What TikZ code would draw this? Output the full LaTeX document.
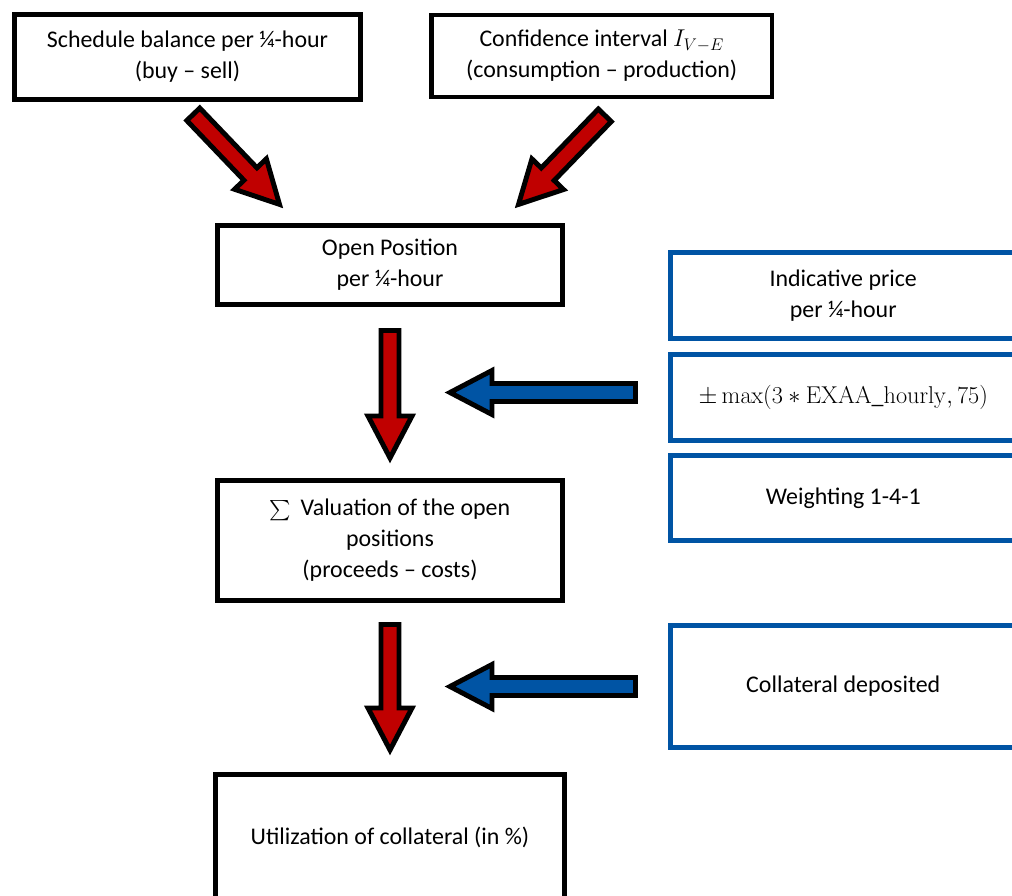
\documentclass[tikz,border=0pt]{standalone}
\usepackage{amsmath}
\usepackage[no-math]{fontspec}
\setmainfont{Carlito}
\usetikzlibrary{calc,positioning}
\definecolor{arrred}{RGB}{192,0,0}
\definecolor{boxblue}{RGB}{0,84,164}
\tikzset{
  blackbox/.style={draw=black,line width=3.5pt,fill=white,align=center,
    font=\fontsize{17}{22}\selectfont},
  bluebox/.style={blackbox,draw=boxblue,line width=3.2pt},
  blockarrow/.style={draw=black,line width=3.5pt,line join=miter,
    to path={
      ($(\tikztostart)!0.225cm!90:(\tikztotarget)$)
      -- ($($(\tikztotarget)!1.05cm!(\tikztostart)$)!0.225cm!90:(\tikztotarget)$)
      -- ($($(\tikztotarget)!1.05cm!(\tikztostart)$)!0.55cm!90:(\tikztotarget)$)
      -- (\tikztotarget)
      -- ($($(\tikztotarget)!1.05cm!(\tikztostart)$)!0.55cm!-90:(\tikztotarget)$)
      -- ($($(\tikztotarget)!1.05cm!(\tikztostart)$)!0.225cm!-90:(\tikztotarget)$)
      -- ($(\tikztostart)!0.225cm!-90:(\tikztotarget)$)
      -- cycle}},
  redarr/.style={blockarrow,fill=arrred},
  bluearr/.style={blockarrow,fill=boxblue},
}

\begin{document}
\begin{tikzpicture}[x=0.025cm,y=-0.025cm]
  \useasboundingbox (0,0) rectangle (1012,895);
  \clip (0,0) rectangle (1012,895);
  % inputs
  \node[blackbox,minimum width=8.65cm,minimum height=2.125cm] (sched) at (187.5,57)
    {Schedule balance per ¼-hour\\(buy – sell)};
  \node[blackbox,minimum width=8.51cm,minimum height=2.05cm] (conf) at (601.75,56)
    {Confidence interval $I_{V-E}$\\(consumption – production)};
  % main column
  \node[blackbox,minimum width=8.625cm,minimum height=1.975cm] (open) at (390,265)
    {Open Position\\per ¼-hour};
  \node[blackbox,minimum width=8.625cm,minimum height=3cm] (valu) at (390,540.5)
    {{\fontsize{15}{22}\selectfont$\sum$}\ \,Valuation of the open\\positions\\(proceeds – costs)};
  \node[blackbox,minimum width=8.725cm,minimum height=3.125cm] (util) at (390,837)
    {Utilization of collateral (in \%)};
  % price side
  \node[bluebox,minimum width=8.64cm,minimum height=2.15cm] (price) at (843.25,295.5)
    {Indicative price\\per ¼-hour};
  \node[bluebox,minimum width=8.64cm,minimum height=2.15cm] (band) at (843.25,397.5)
    {$\pm\max(3\ast\mathrm{EXAA\_hourly},75)$};
  \node[bluebox,minimum width=8.64cm,minimum height=2.125cm] (weight) at (843.25,498)
    {Weighting 1-4-1};
  \node[bluebox,minimum width=8.64cm,minimum height=3.05cm] (coll) at (843.25,686.5)
    {Collateral deposited};
  % arrow ends
  \coordinate (schedtail) at (193.3,114.3);
  \coordinate (schedtip) at (279.5,204.4);
  \coordinate (conftail) at (604.8,115.3);
  \coordinate (conftip) at (518.5,204.4);
  \coordinate (opentail) at (390,330.5);
  \coordinate (opentip) at (390,458);
  \coordinate (valutail) at (390,624.5);
  \coordinate (valutip) at (390,750);
  \coordinate (bandtail) at (635.5,392.5);
  \coordinate (bandtip) at (450,392.5);
  \coordinate (colltail) at (635.5,686.5);
  \coordinate (colltip) at (450,686.5);
  \draw[redarr] (schedtail) to (schedtip);
  \draw[redarr] (conftail) to (conftip);
  \draw[redarr] (opentail) to (opentip);
  \draw[redarr] (valutail) to (valutip);
  \draw[bluearr] (bandtail) to (bandtip);
  \draw[bluearr] (colltail) to (colltip);
\end{tikzpicture}
\end{document}
